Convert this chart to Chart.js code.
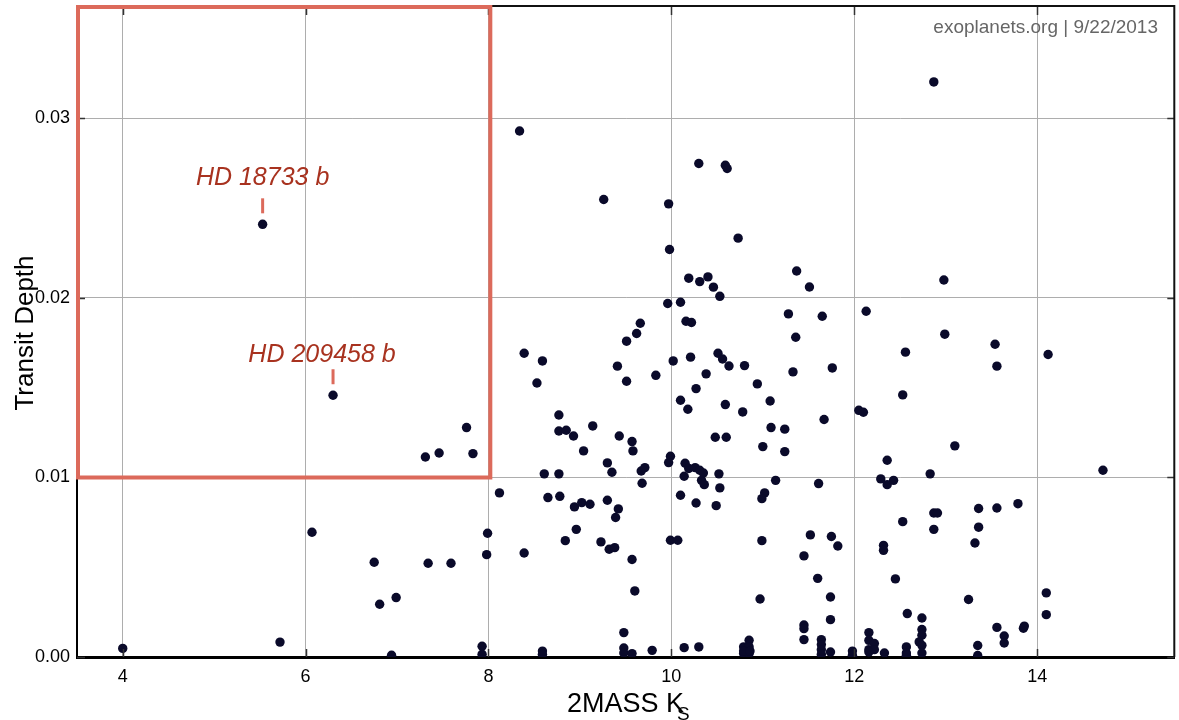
<!DOCTYPE html>
<html>
<head>
<meta charset="UTF-8" />
<title>Transit Depth vs 2MASS Ks</title>
<script src="https://cdn.jsdelivr.net/npm/chart.js@4.4.1/dist/chart.umd.min.js"></script>
<style>
    body { margin: 0; background: white; }
    #wrap { width: 1179px; height: 720px; }
</style>
</head>
<body>
<div id="wrap"><canvas id="depthChart" width="1179" height="720"></canvas></div>
<script>
// 2MASS Ks magnitude of the host star and transit depth
var kmag = [
    4.00, 5.72, 5.53, 6.30, 6.07, 6.75, 6.81, 6.99, 6.94, 7.31, 7.46, 7.76, 7.83, 7.34, 7.59, 7.99, 7.98, 7.93, 7.93, 8.39, 8.59, 8.59,
    8.53, 9.51, 10.27, 10.10, 10.18, 8.77, 8.77, 8.85, 9.14, 8.93, 9.43, 9.57, 9.58, 9.04, 9.30, 9.35, 9.67, 9.71, 9.68,
    9.99, 9.97, 10.15, 10.19, 10.26, 10.14, 8.61, 8.77, 8.12, 8.65, 8.78, 8.94, 9.02, 9.11, 9.30, 9.42, 9.39, 10.10, 10.27,
    8.96, 8.84, 9.23, 9.32, 9.38, 9.57, 9.60, 9.99, 10.07, 9.48, 9.48, 9.48, 9.57, 9.79, 10.14, 10.30,
    8.34, 9.26, 9.97, 10.30, 10.59, 10.61, 10.73, 9.98, 10.19, 10.31, 10.40, 10.46, 10.53, 9.96, 10.10, 11.37, 11.28, 11.36,
    11.33, 10.16, 10.22, 9.66, 9.62, 9.51, 8.39, 8.59, 9.41, 9.83, 10.02, 10.21, 10.51, 10.56, 10.63, 10.80, 10.38, 10.94,
    10.59, 10.78, 11.08, 11.09, 11.24, 11.00, 11.24, 10.48, 10.60, 11.14, 11.02, 10.99, 10.52, 10.53, 10.33, 10.36, 10.31, 10.35,
    12.87, 11.51, 12.98, 11.65, 12.13, 12.99, 12.56, 13.54, 13.56, 14.12, 11.76, 12.53, 12.05, 12.10, 11.67, 13.10, 12.36,
    12.29, 12.36, 12.43, 12.83, 14.72, 11.61,
    10.49, 12.53, 11.52, 11.75, 11.82, 11.45, 12.32, 12.32, 10.99, 11.60, 12.45, 11.74, 10.97, 11.74, 11.45, 11.45, 11.45,
    12.16, 12.16, 12.22, 12.16, 12.22, 12.33, 12.58, 12.57, 12.57, 11.98, 11.98, 11.64, 11.64, 11.64, 11.64, 11.74,
    10.85, 10.79, 10.85, 10.79, 10.85, 10.79, 10.86, 12.16, 12.57,
    12.87, 12.91, 12.87, 13.36, 13.56, 13.79, 13.36, 13.32, 13.25, 14.10, 14.10, 12.74, 12.74, 12.74, 12.71, 12.74, 12.74,
    13.56, 13.64, 13.64, 13.85, 13.86, 13.35, 13.35
];
var depth = [
    0.00048, 0.00083, 0.0241, 0.01458, 0.00695, 0.00528, 0.00294, 0.00331, 0.00010, 0.01114, 0.01136, 0.01278, 0.01133, 0.00522, 0.00522, 0.00689, 0.00570, 0.00060, 0.00015, 0.00579, 0.00033, 0.00015,
    0.01526, 0.01536, 0.01495, 0.01430, 0.01380, 0.01348, 0.01259, 0.01263, 0.01287, 0.01231, 0.01231, 0.01200, 0.01148, 0.01148, 0.01081, 0.01029, 0.01036, 0.01055, 0.00968,
    0.01118, 0.01083, 0.01079, 0.01050, 0.01055, 0.01007, 0.01020, 0.01020, 0.00914, 0.00888, 0.00895, 0.00836, 0.00860, 0.00851, 0.00873, 0.00825, 0.00777, 0.00901, 0.00858,
    0.00711, 0.00648, 0.00641, 0.00600, 0.00609, 0.00543, 0.00368, 0.00650, 0.00650, 0.00136, 0.00050, 0.00022, 0.00019, 0.00037, 0.00052, 0.00056,
    0.0293, 0.02548, 0.02524, 0.02749, 0.02739, 0.02721, 0.02333, 0.02270, 0.02110, 0.02091, 0.02117, 0.02060, 0.02009, 0.01969, 0.01976, 0.02150, 0.01911, 0.01781,
    0.01588, 0.01870, 0.01863, 0.01859, 0.01802, 0.01759, 0.01692, 0.01649, 0.01620, 0.01569, 0.01649, 0.01670, 0.01692, 0.01660, 0.01621, 0.01623, 0.01577, 0.01521,
    0.01406, 0.01365, 0.01426, 0.01278, 0.01269, 0.01172, 0.01144, 0.01224, 0.01224, 0.00984, 0.00914, 0.00882, 0.01020, 0.00942, 0.00984, 0.00960, 0.01040, 0.01025,
    0.03203, 0.02061, 0.02100, 0.01898, 0.01926, 0.01798, 0.01698, 0.01742, 0.01620, 0.01685, 0.01610, 0.01460, 0.01374, 0.01363, 0.01323, 0.01176, 0.01096,
    0.00992, 0.00960, 0.00984, 0.01020, 0.01040, 0.00966,
    0.00843, 0.00754, 0.00680, 0.00671, 0.00618, 0.00563, 0.00622, 0.00594, 0.00648, 0.00438, 0.00435, 0.00334, 0.00323, 0.00208, 0.00178, 0.00158, 0.00097,
    0.00136, 0.00093, 0.00075, 0.00041, 0.00041, 0.00022, 0.00242, 0.00056, 0.00022, 0.00033, 0.00010, 0.00097, 0.00069, 0.00041, 0.00015, 0.00028,
    0.00093, 0.00056, 0.00056, 0.00019, 0.00019, 0.00033, 0.00033, 0.00028, 0.00010,
    0.00802, 0.00802, 0.00711, 0.00827, 0.00830, 0.00854, 0.00723, 0.00635, 0.00320, 0.00357, 0.00236, 0.00217, 0.00153, 0.00121, 0.00084, 0.00065, 0.00022,
    0.00165, 0.00117, 0.00078, 0.00160, 0.00172, 0.00064, 0.00008
];

var xTicks = [4, 6, 8, 10, 12, 14];
var yTicks = [0, 0.01, 0.02, 0.03];

// the two named planets and the highlighted box (bright, shallow-ish region)
var labelNames = ['HD 18733 b', 'HD 209458 b'];
var labelX = [5.53, 6.30];
var labelY = [0.0241, 0.01458];
var boxMaxK = 8.02;
var boxMinDepth = 0.01;

var fontFam = 'Helvetica, "Liberation Sans", Arial, sans-serif';

var points = [];
for (var i = 0; i < kmag.length; i++) {
    points.push({ x: kmag[i], y: depth[i] });
}

var extras = {
    id: 'extras',
    afterDatasetsDraw: function (chart) {
        var ctx = chart.ctx;
        var xs = chart.scales.x, ys = chart.scales.y;
        var ca = chart.chartArea;
        ctx.save();

        // small inward tick marks on all four sides
        ctx.strokeStyle = '#333';
        ctx.lineWidth = 1.5;
        xTicks.forEach(function (v) {
            var px = Math.round(xs.getPixelForValue(v)) + 0.5;
            ctx.beginPath();
            ctx.moveTo(px, ca.bottom); ctx.lineTo(px, ca.bottom - 8);
            ctx.moveTo(px, ca.top); ctx.lineTo(px, ca.top + 9);
            ctx.stroke();
        });
        yTicks.forEach(function (v) {
            var py = Math.round(ys.getPixelForValue(v)) + 0.5;
            ctx.beginPath();
            ctx.moveTo(ca.left, py); ctx.lineTo(ca.left + 8, py);
            ctx.moveTo(ca.right, py); ctx.lineTo(ca.right - 7, py);
            ctx.stroke();
        });

        // frame: top and right
        ctx.strokeStyle = '#111';
        ctx.lineWidth = 2;
        ctx.beginPath();
        ctx.moveTo(ca.left, ca.top); ctx.lineTo(ca.right, ca.top); ctx.lineTo(ca.right, ca.bottom);
        ctx.stroke();

        // red box
        var bx = xs.getPixelForValue(boxMaxK);
        var by = ys.getPixelForValue(boxMinDepth);
        ctx.strokeStyle = '#dc6a5b';
        ctx.lineWidth = 4;
        ctx.beginPath();
        ctx.moveTo(ca.left + 1, ca.top + 1);
        ctx.lineTo(bx, ca.top + 1);
        ctx.lineTo(bx, by);
        ctx.lineTo(ca.left + 1, by);
        ctx.closePath();
        ctx.stroke();

        // planet labels with small marker lines
        var textOff = [[0, -39], [-11, -33]];
        for (var k = 0; k < labelNames.length; k++) {
            var px = xs.getPixelForValue(labelX[k]);
            var py = ys.getPixelForValue(labelY[k]);
            ctx.strokeStyle = '#dc6a5b';
            ctx.lineWidth = 3;
            ctx.beginPath();
            ctx.moveTo(px, py - 26); ctx.lineTo(px, py - 11);
            ctx.stroke();
            ctx.fillStyle = '#a8321f';
            ctx.font = 'italic 25px ' + fontFam;
            ctx.textAlign = 'center';
            ctx.textBaseline = 'alphabetic';
            ctx.fillText(labelNames[k], px + textOff[k][0], py + textOff[k][1]);
        }

        // credit line
        ctx.fillStyle = '#666';
        ctx.font = '19px ' + fontFam;
        ctx.textAlign = 'right';
        ctx.fillText('exoplanets.org | 9/22/2013', 1158, 33);

        // axis titles
        ctx.fillStyle = '#000';
        ctx.font = '27px ' + fontFam;
        ctx.textAlign = 'left';
        var main = '2MASS K';
        var w = ctx.measureText(main).width;
        var startX = 567;
        ctx.fillText(main, startX, 712);
        ctx.font = '19px ' + fontFam;
        ctx.fillText('S', startX + w - 7, 720);

        ctx.font = '26px ' + fontFam;
        ctx.translate(33, 333);
        ctx.rotate(-Math.PI / 2);
        ctx.textAlign = 'center';
        ctx.fillText('Transit Depth', 0, 0);
        ctx.restore();
    }
};

Chart.defaults.font.family = fontFam;
Chart.defaults.color = '#000';

var chart = new Chart('depthChart', {
    type: 'scatter',
    data: {
        datasets: [{
            data: points,
            pointRadius: 4.7,
            pointHoverRadius: 4.7,
            backgroundColor: '#0a0a2a',
            borderColor: '#0a0a2a',
            borderWidth: 0
        }]
    },
    options: {
        responsive: false,
        animation: false,
        devicePixelRatio: 1,
        layout: { padding: { top: 6, right: 2, left: 0, bottom: 0 } },
        plugins: { legend: { display: false }, tooltip: { enabled: false } },
        scales: {
            x: {
                type: 'linear',
                min: 3.5, max: 15.5,
                afterBuildTicks: function (s) { s.ticks = xTicks.map(function (v) { return { value: v }; }); },
                afterFit: function (s) { s.height = 63; s.paddingLeft = 0; s.paddingRight = 0; },
                ticks: { padding: 9, font: { size: 18 }, color: '#000' },
                grid: { color: '#adadad', lineWidth: 1, drawTicks: false },
                border: { color: '#000', width: 3 }
            },
            y: {
                type: 'linear',
                min: 0, max: 0.03626,
                afterBuildTicks: function (s) { s.ticks = yTicks.map(function (v) { return { value: v }; }); },
                afterFit: function (s) { s.width = 77; s.paddingTop = 0; s.paddingBottom = 0; },
                ticks: {
                    padding: 7, font: { size: 18 }, color: '#000',
                    callback: function (v) { return v.toFixed(2); }
                },
                grid: { color: '#adadad', lineWidth: 1, drawTicks: false },
                border: { color: '#000', width: 2 }
            }
        }
    },
    plugins: [extras]
});
</script>
</body>
</html>
